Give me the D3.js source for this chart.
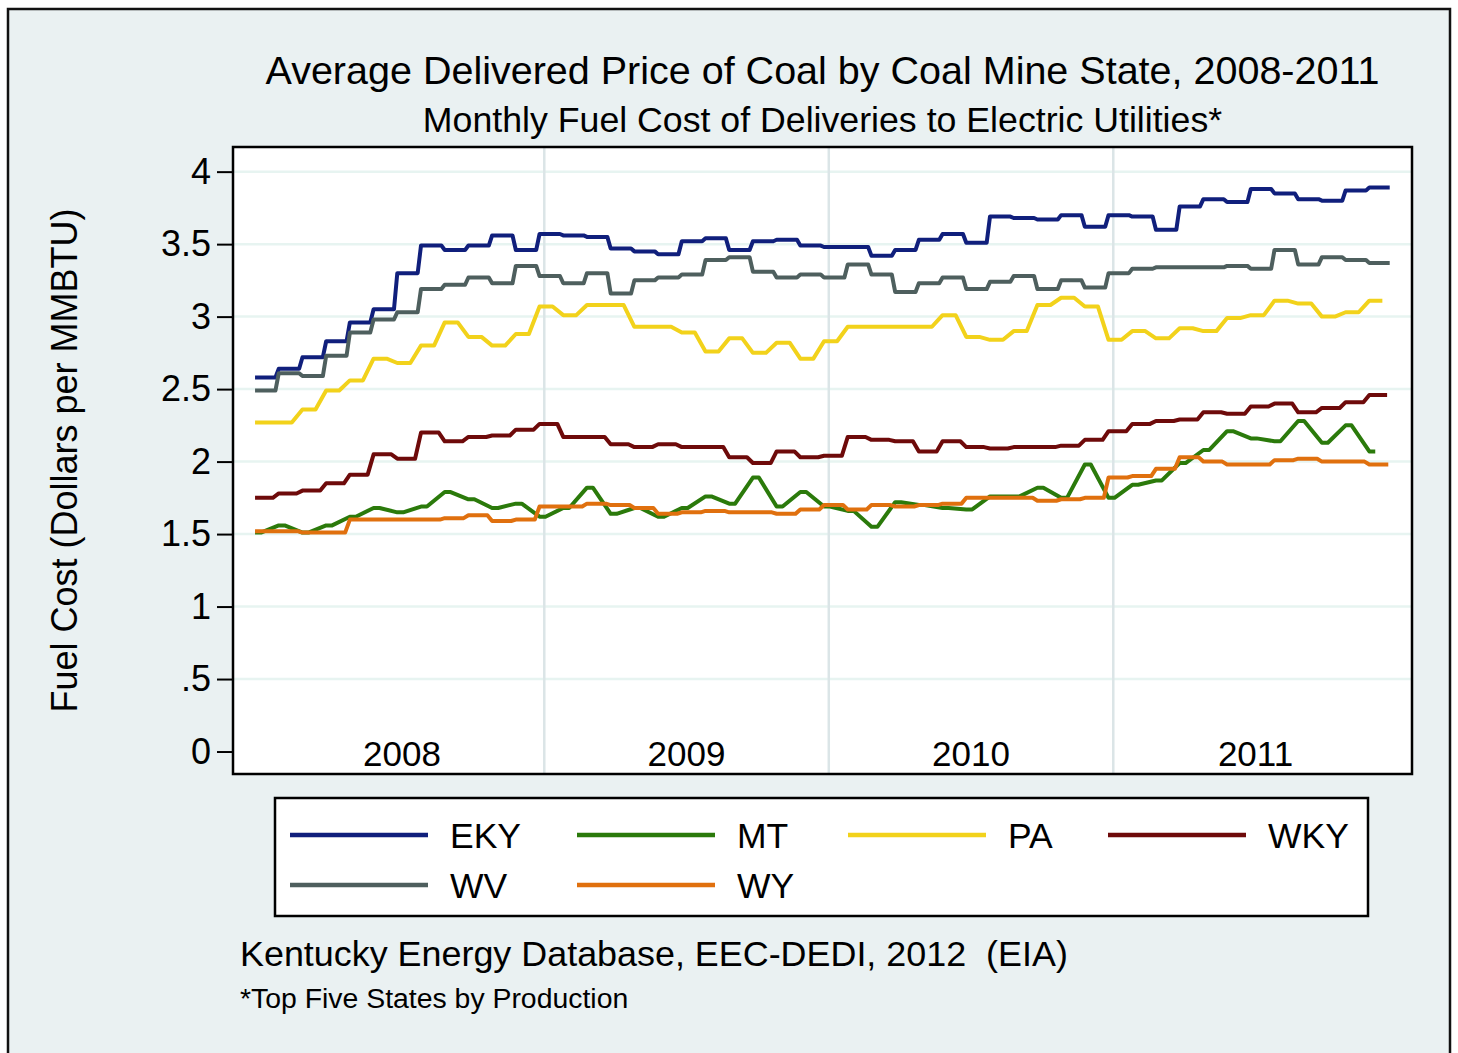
<!DOCTYPE html>
<html>
<head>
<meta charset="utf-8">
<script src="https://cdn.jsdelivr.net/npm/d3@7"></script>
<style>
  html, body { margin: 0; padding: 0; background: #fff; }
  svg { display: block; }
  text { font-family: "Liberation Sans", Arial, Helvetica, sans-serif; fill: #000; }
</style>
</head>
<body>
<script>
// monthly average delivered price, Jan 2008 .. Dec 2011 (dollars per MMBTU)
var years = ["2008", "2009", "2010", "2011"]
var states = ["EKY", "MT", "PA", "WKY", "WV", "WY"]
var colors = ["#101f7c", "#2b7a0b", "#f2d21b", "#6e0a0a", "#4e5f5e", "#e0700e"]
var yTicks = [0, 0.5, 1, 1.5, 2, 2.5, 3, 3.5, 4]

var EKY = [2.58, 2.64, 2.72, 2.83, 2.96, 3.05, 3.30, 3.49, 3.46, 3.49, 3.56, 3.46,
  3.57, 3.56, 3.55, 3.47, 3.45, 3.43, 3.52, 3.54, 3.46, 3.52, 3.53, 3.49,
  3.48, 3.48, 3.42, 3.46, 3.53, 3.57, 3.51, 3.69, 3.68, 3.67, 3.70, 3.62,
  3.70, 3.69, 3.60, 3.76, 3.81, 3.79, 3.88, 3.85, 3.81, 3.80, 3.87, 3.89]
var MT = [1.51, 1.56, 1.51, 1.56, 1.62, 1.68, 1.65, 1.69, 1.79, 1.74, 1.68, 1.71,
  1.62, 1.68, 1.82, 1.64, 1.68, 1.62, 1.68, 1.76, 1.71, 1.89, 1.69, 1.79,
  1.69, 1.66, 1.55, 1.72, 1.70, 1.68, 1.67, 1.76, 1.76, 1.82, 1.75, 1.98,
  1.75, 1.84, 1.87, 1.99, 2.08, 2.21, 2.16, 2.14, 2.28, 2.13, 2.25, 2.07]
var PA = [2.27, 2.27, 2.36, 2.49, 2.56, 2.71, 2.68, 2.80, 2.96, 2.86, 2.80, 2.88,
  3.07, 3.01, 3.08, 3.08, 2.93, 2.93, 2.89, 2.76, 2.85, 2.75, 2.82, 2.71,
  2.83, 2.93, 2.93, 2.93, 2.93, 3.01, 2.86, 2.84, 2.90, 3.08, 3.13, 3.07,
  2.84, 2.90, 2.85, 2.92, 2.90, 2.99, 3.01, 3.11, 3.09, 3.00, 3.03, 3.11]
var WKY = [1.75, 1.78, 1.80, 1.85, 1.91, 2.05, 2.02, 2.20, 2.14, 2.17, 2.18, 2.22,
  2.26, 2.17, 2.17, 2.12, 2.10, 2.12, 2.10, 2.10, 2.03, 1.99, 2.07, 2.03,
  2.04, 2.17, 2.15, 2.14, 2.07, 2.14, 2.10, 2.09, 2.10, 2.10, 2.11, 2.15,
  2.21, 2.26, 2.28, 2.29, 2.34, 2.33, 2.38, 2.40, 2.34, 2.37, 2.41, 2.46]
var WV = [2.49, 2.61, 2.59, 2.73, 2.89, 2.98, 3.03, 3.19, 3.22, 3.27, 3.23, 3.35,
  3.28, 3.23, 3.30, 3.16, 3.25, 3.27, 3.29, 3.39, 3.41, 3.31, 3.27, 3.29,
  3.27, 3.36, 3.29, 3.17, 3.23, 3.27, 3.19, 3.24, 3.28, 3.19, 3.25, 3.20,
  3.30, 3.33, 3.34, 3.34, 3.34, 3.35, 3.33, 3.46, 3.36, 3.41, 3.39, 3.37]
var WY = [1.52, 1.52, 1.51, 1.51, 1.60, 1.60, 1.60, 1.60, 1.61, 1.63, 1.59, 1.60,
  1.69, 1.69, 1.71, 1.70, 1.68, 1.64, 1.65, 1.66, 1.65, 1.65, 1.64, 1.67,
  1.70, 1.67, 1.70, 1.69, 1.70, 1.71, 1.75, 1.75, 1.75, 1.73, 1.74, 1.75,
  1.89, 1.90, 1.95, 2.03, 2.00, 1.98, 1.98, 2.01, 2.02, 2.00, 2.00, 1.98]

var seriesValues = [EKY, MT, PA, WKY, WV, WY]
// share of each month drawn flat before moving to the next value (weekly source data)
var flatShare = [0.86, 0.25, 0.55, 0.75, 0.86, 0.8]

var W = 1458, H = 1053
var plot = {left: 233, right: 1412, top: 147, bottom: 774}

var svg = d3.select("body").append("svg")
  .attr("width", W)
  .attr("height", H)

// graph region + outer frame
svg.append("rect").attr("x", 8).attr("y", 9).attr("width", 1442).attr("height", 1060)
  .attr("fill", "#eaf1f2").attr("stroke", "#111").attr("stroke-width", 2.5)

// months since Jan 2008
var x = d3.scaleLinear().domain([-1.13, 48.6]).range([plot.left, plot.right])
var y = d3.scaleLinear().domain([-0.155, 4.17]).range([plot.bottom, plot.top])

svg.append("rect")
  .attr("x", plot.left).attr("y", plot.top)
  .attr("width", plot.right - plot.left).attr("height", plot.bottom - plot.top)
  .attr("fill", "#fff")

// horizontal grid
svg.selectAll("line.hgrid")
  .data(yTicks.filter(function(d) { return d > 0 }))
  .enter().append("line")
  .attr("class", "hgrid")
  .attr("x1", plot.left).attr("x2", plot.right)
  .attr("y1", function(d) { return y(d) }).attr("y2", function(d) { return y(d) })
  .attr("stroke", "#e7f4f1").attr("stroke-width", 2.5)

// year boundaries
svg.selectAll("line.vgrid")
  .data([12, 24, 36])
  .enter().append("line")
  .attr("class", "vgrid")
  .attr("x1", function(d) { return x(d) }).attr("x2", function(d) { return x(d) })
  .attr("y1", plot.top).attr("y2", plot.bottom)
  .attr("stroke", "#dbe5e7").attr("stroke-width", 2.5)

// year labels inside the plot
svg.selectAll("text.year")
  .data(years)
  .enter().append("text")
  .attr("class", "year")
  .attr("x", function(d, i) { return x(i * 12 + 6) })
  .attr("y", 766)
  .attr("text-anchor", "middle")
  .attr("font-size", 35)
  .text(function(d) { return d })

// flat run for most of each month, then a short ramp into the next value
function Shelf(context, flat) { this._context = context; this._flat = flat }
Shelf.prototype = {
  areaStart: function() { this._line = 0 },
  areaEnd: function() { this._line = NaN },
  lineStart: function() { this._x = this._y = this._dx = NaN; this._point = 0 },
  lineEnd: function() {
    if (this._point && !isNaN(this._dx)) this._context.lineTo(this._x + this._flat * this._dx, this._y)
  },
  point: function(px, py) {
    px = +px; py = +py
    if (!this._point) {
      this._point = 1
      this._context.moveTo(px, py)
    } else {
      this._dx = px - this._x
      this._context.lineTo(this._x + this._flat * this._dx, this._y)
      this._context.lineTo(px, py)
    }
    this._x = px; this._y = py
  }
}
function curveShelf(flat) {
  return function(context) { return new Shelf(context, flat) }
}

var series = states.map(function(s, k) {
  return {name: s, color: colors[k], flat: flatShare[k], values: seriesValues[k]}
})

svg.append("g").selectAll("path")
  .data(series)
  .enter().append("path")
  .attr("fill", "none")
  .attr("stroke", function(d) { return d.color })
  .attr("stroke-width", 4)
  .attr("stroke-linejoin", "round")
  .attr("d", function(d) {
    return d3.line()
      .x(function(v, i) { return x(i - 0.2) })
      .y(function(v) { return y(v) })
      .curve(curveShelf(d.flat))(d.values)
  })

// plot border
svg.append("rect")
  .attr("x", plot.left).attr("y", plot.top)
  .attr("width", plot.right - plot.left).attr("height", plot.bottom - plot.top)
  .attr("fill", "none").attr("stroke", "#000").attr("stroke-width", 2.5)

// y axis
var yAxis = svg.append("g")
  .attr("transform", "translate(" + (plot.left - 1) + ",0)")
  .call(d3.axisLeft(y).tickValues(yTicks).tickSize(15).tickPadding(6)
    .tickFormat(function(d) { return d === 0 ? "0" : String(d).replace(/^0\./, ".") }))
yAxis.select(".domain").remove()
yAxis.selectAll(".tick line").attr("stroke", "#000").attr("stroke-width", 2)
yAxis.selectAll(".tick text")
  .attr("font-size", 36).attr("font-family", "Liberation Sans, Arial, sans-serif").attr("fill", "#000")

svg.append("text")
  .attr("transform", "translate(77," + ((plot.top + plot.bottom) / 2) + ") rotate(-90)")
  .attr("text-anchor", "middle")
  .attr("font-size", 36)
  .text("Fuel Cost (Dollars per MMBTU)")

// titles
var cx = (plot.left + plot.right) / 2
svg.append("text").attr("x", cx).attr("y", 84).attr("text-anchor", "middle")
  .attr("font-size", 39.5).text("Average Delivered Price of Coal by Coal Mine State, 2008-2011")
svg.append("text").attr("x", cx).attr("y", 132).attr("text-anchor", "middle")
  .attr("font-size", 35.7).text("Monthly Fuel Cost of Deliveries to Electric Utilities*")

// legend
var legend = {left: 275, top: 798, right: 1368, bottom: 916}
svg.append("rect")
  .attr("x", legend.left).attr("y", legend.top)
  .attr("width", legend.right - legend.left).attr("height", legend.bottom - legend.top)
  .attr("fill", "#fff").attr("stroke", "#000").attr("stroke-width", 2.5)

var keyCols = [290, 577, 848, 1108]
var rowY = [835, 885]
var items = svg.append("g").selectAll("g")
  .data(series)
  .enter().append("g")
  .attr("transform", function(d, i) {
    return "translate(" + keyCols[i % 4] + "," + rowY[Math.floor(i / 4)] + ")"
  })
items.append("line")
  .attr("x1", 0).attr("x2", 138).attr("y1", 0).attr("y2", 0)
  .attr("stroke", function(d) { return d.color }).attr("stroke-width", 4.5)
items.append("text")
  .attr("x", 160).attr("y", 13)
  .attr("font-size", 35.5)
  .text(function(d) { return d.name })

// notes
svg.append("text").attr("x", 240).attr("y", 966).attr("font-size", 35.9)
  .style("white-space", "pre")
  .text("Kentucky Energy Database, EEC-DEDI, 2012  (EIA)")
svg.append("text").attr("x", 240).attr("y", 1008).attr("font-size", 28.4)
  .text("*Top Five States by Production")
</script>
</body>
</html>
